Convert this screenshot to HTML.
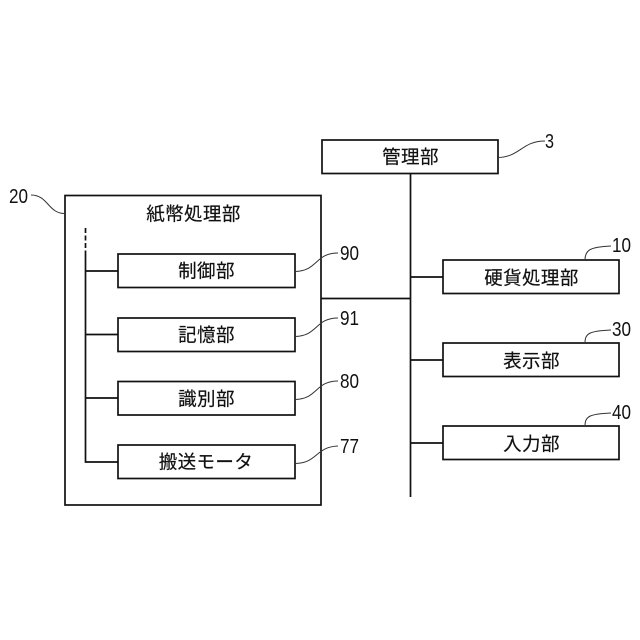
<!DOCTYPE html>
<html lang="ja"><head><meta charset="utf-8">
<style>html,body{margin:0;padding:0;background:#fff}svg{display:block}
text{font-family:"Liberation Sans","Noto Sans CJK JP",sans-serif;fill:#111}
.j{font-size:18.500px;text-anchor:middle;letter-spacing:.4px;stroke:#111;stroke-width:.2}
.n{font-size:20px}
rect{fill:#fff;stroke:#111;stroke-width:1.7}
.l{stroke:#111;stroke-width:1.7;fill:none}
.c{stroke:#333;stroke-width:1;fill:none}</style></head>
<body>
<svg width="640" height="640" viewBox="0 0 640 640" xmlns="http://www.w3.org/2000/svg">
<rect x="0" y="0" width="640" height="640" style="fill:#fff;stroke:none"/>
<rect x="65" y="195.500" width="256" height="309.500"/>
<rect x="322" y="140" width="176" height="33.500"/>
<path class="l" d="M410.500 173V497M321 298.500H410.500M410.500 277H443M410.500 360H443M410.500 443H443"/>
<rect x="443" y="260" width="176" height="33.500"/>
<rect x="443" y="343" width="176" height="33.500"/>
<rect x="443" y="426" width="176" height="33.500"/>
<path class="l" d="M85.500 228V252" stroke-dasharray="5 2.500"/>
<path class="l" d="M85.500 252V462H118M85.500 271H118M85.500 334.500H118M85.500 398H118"/>
<rect x="118" y="254" width="177" height="33.500"/>
<rect x="118" y="318" width="177" height="33.500"/>
<rect x="118" y="381.500" width="177" height="33.500"/>
<rect x="118" y="445" width="177" height="33.500"/>
<path class="c" d="M498 157.500C520 157 522 141 545 141"/>
<path class="c" d="M64 213.500C48 213 48 195 31 195"/>
<path class="c" d="M295 271.500C318 271 315 253 338 253"/>
<path class="c" d="M295 336.500C318 336 315 318 338 318"/>
<path class="c" d="M295 399.500C318 399 315 381 338 381"/>
<path class="c" d="M295 463.500C318 463 315 447 338 446"/>
<path class="c" d="M585 260C585 250 590 247 611 246"/>
<path class="c" d="M585 343C585 333 590 331 611 330"/>
<path class="c" d="M585 426C585 416 590 414 611 413"/>
<text class="j" x="410.500" y="163.500">管理部</text>
<text class="j" x="193.500" y="220.500">紙幣処理部</text>
<text class="j" x="206.500" y="277.500">制御部</text>
<text class="j" x="206.500" y="341.500">記憶部</text>
<text class="j" x="206.500" y="405.500">識別部</text>
<text class="j" x="206" y="468.500">搬送モータ</text>
<text class="j" x="531.500" y="284.500">硬貨処理部</text>
<text class="j" x="531.500" y="367.500">表示部</text>
<text class="j" x="531.500" y="450.500">入力部</text>
<text class="n" x="545" y="148" textLength="9" lengthAdjust="spacingAndGlyphs">3</text>
<text class="n" x="9" y="203" textLength="19" lengthAdjust="spacingAndGlyphs">20</text>
<text class="n" x="340" y="260" textLength="19" lengthAdjust="spacingAndGlyphs">90</text>
<text class="n" x="340" y="325" textLength="19" lengthAdjust="spacingAndGlyphs">91</text>
<text class="n" x="340" y="388" textLength="19" lengthAdjust="spacingAndGlyphs">80</text>
<text class="n" x="340" y="453" textLength="19" lengthAdjust="spacingAndGlyphs">77</text>
<text class="n" x="612" y="252" textLength="19" lengthAdjust="spacingAndGlyphs">10</text>
<text class="n" x="612" y="336" textLength="19" lengthAdjust="spacingAndGlyphs">30</text>
<text class="n" x="612" y="419" textLength="19" lengthAdjust="spacingAndGlyphs">40</text>
</svg>
</body></html>
